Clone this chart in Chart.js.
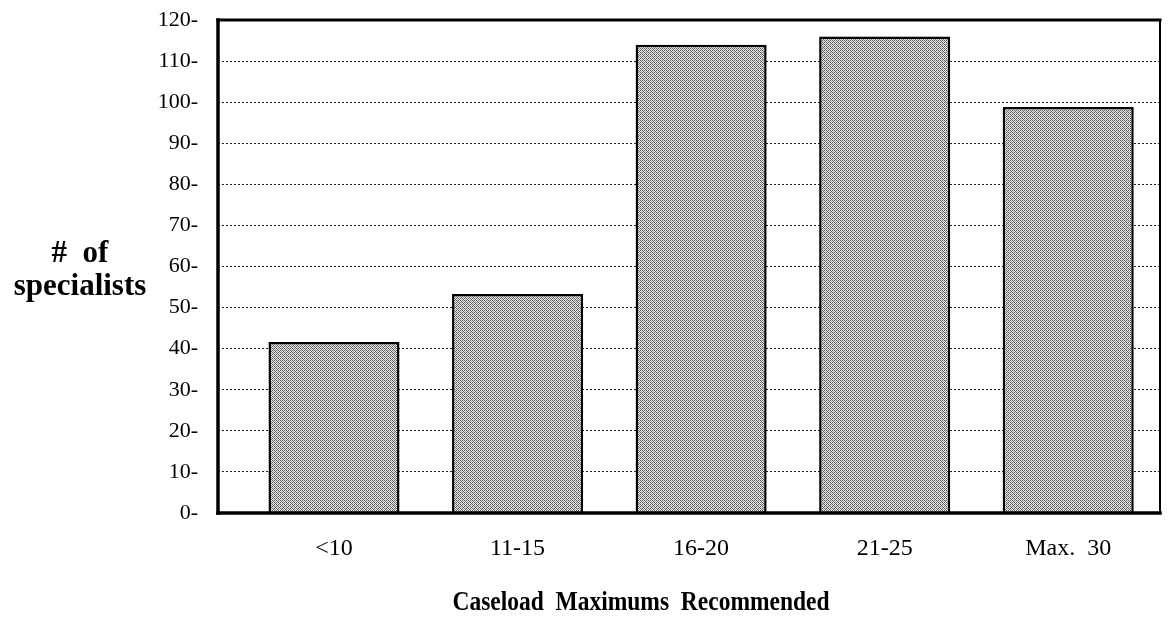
<!DOCTYPE html>
<html>
<head>
<meta charset="utf-8">
<script src="https://cdn.jsdelivr.net/npm/chart.js@4/dist/chart.umd.min.js"></script>
<style>
html,body{margin:0;padding:0;background:#fff;}
#wrap{width:1168px;height:628px;position:relative;}
</style>
</head>
<body>
<div id="wrap"><canvas id="c" width="1168" height="628"></canvas></div>
<script>
const categories = ["<10", "11-15", "16-20", "21-25", "Max.  30"];
const specialists = [41.6, 53.3, 114, 116, 98.8];
const yTicks = [0, 10, 20, 30, 40, 50, 60, 70, 80, 90, 100, 110, 120];
const yTitle = ["#  of", "specialists"];
const xTitle = "Caseload  Maximums  Recommended";

// stipple pattern for bars
function makePattern() {
  const p = document.createElement('canvas');
  p.width = 4; p.height = 4;
  const g = p.getContext('2d');
  g.fillStyle = '#e6e6e6';
  g.fillRect(0, 0, 4, 4);
  g.fillStyle = '#5e5e5e';
  const dots = [[0,0],[2,0],[1,1],[3,1],[0,2],[3,3],[2,2],[1,3]];
  const light = [[3,1],[1,3]];
  dots.forEach(([x,y]) => g.fillRect(x, y, 1, 1));
  g.fillStyle = '#a0a0a0';
  light.forEach(([x,y]) => g.fillRect(x, y, 1, 1));
  return g.createPattern(p, 'repeat');
}

const ctx = document.getElementById('c').getContext('2d');
const pattern = makePattern();

const framePlugin = {
  id: 'frame',
  afterDatasetsDraw(chart) {
    const a = chart.chartArea;
    const c = chart.ctx;
    c.save();
    c.strokeStyle = '#000';
    c.lineCap = 'square';
    c.lineWidth = 3;
    c.beginPath(); c.moveTo(a.left, a.top); c.lineTo(a.right, a.top); c.stroke();
    c.lineWidth = 3.5;
    c.beginPath(); c.moveTo(a.left, a.top); c.lineTo(a.left, a.bottom); c.stroke();
    c.beginPath(); c.moveTo(a.left, a.bottom); c.lineTo(a.right, a.bottom); c.stroke();
    c.lineWidth = 2;
    c.beginPath(); c.moveTo(a.right, a.top); c.lineTo(a.right, a.bottom); c.stroke();
    c.restore();
  },
  afterDraw(chart) {
    const c = chart.ctx;
    c.save();
    c.fillStyle = '#000';
    c.textAlign = 'center';
    c.textBaseline = 'alphabetic';
    c.font = 'bold 31px "Liberation Serif", "Times New Roman", serif';
    c.fillText(yTitle[0], 80, 262);
    c.fillText(yTitle[1], 80, 295);
    c.font = 'bold 27px "Liberation Serif", "Times New Roman", serif';
    c.translate(641, 610);
    c.scale(0.87, 1);
    c.fillText(xTitle, 0, 0);
    c.restore();
  }
};

new Chart(ctx, {
  type: 'bar',
  data: {
    datasets: [{
      data: specialists.map((v, i) => ({ x: i, y: v })),
      backgroundColor: pattern,
      borderColor: '#000',
      borderWidth: 2.5,
      borderSkipped: 'bottom',
      barPercentage: 0.714,
      categoryPercentage: 1.0
    }]
  },
  options: {
    responsive: false,
    animation: false,
    devicePixelRatio: 1,
    layout: { padding: { top: 20, right: 8, left: 0, bottom: 0 } },
    plugins: { legend: { display: false }, tooltip: { enabled: false } },
    scales: {
      x: {
        type: 'linear',
        offset: false,
        min: -0.632,
        max: 4.5,
        afterFit(scale) { scale.height = 115; scale.paddingLeft = 0; scale.paddingRight = 0; },
        afterBuildTicks(scale) { scale.ticks = categories.map((_, i) => ({ value: i })); },
        grid: { display: false, drawTicks: false, offset: false },
        border: { display: false },
        ticks: {
          autoSkip: false,
          maxRotation: 0,
          padding: 21,
          color: '#000',
          font: { family: '"Liberation Serif", "Times New Roman", serif', size: 24 },
          callback: (v) => categories[v] !== undefined ? categories[v] : ''
        }
      },
      y: {
        min: 0,
        max: 120,
        afterFit(scale) { scale.width = 218; scale.paddingTop = 0; scale.paddingBottom = 0; },
        afterBuildTicks(scale) { scale.ticks = yTicks.map(v => ({ value: v })); },
        grid: {
          drawTicks: false,
          color: (c) => (c.tick && (c.tick.value === 0 || c.tick.value === 120)) ? 'rgba(0,0,0,0)' : '#222',
          lineWidth: 1
        },
        border: { display: false, dash: [2, 2] },
        ticks: {
          padding: 20,
          color: '#000',
          font: { family: '"Liberation Serif", "Times New Roman", serif', size: 22 },
          callback: (v) => v + '-'
        }
      }
    }
  },
  plugins: [framePlugin]
});
</script>
</body>
</html>
